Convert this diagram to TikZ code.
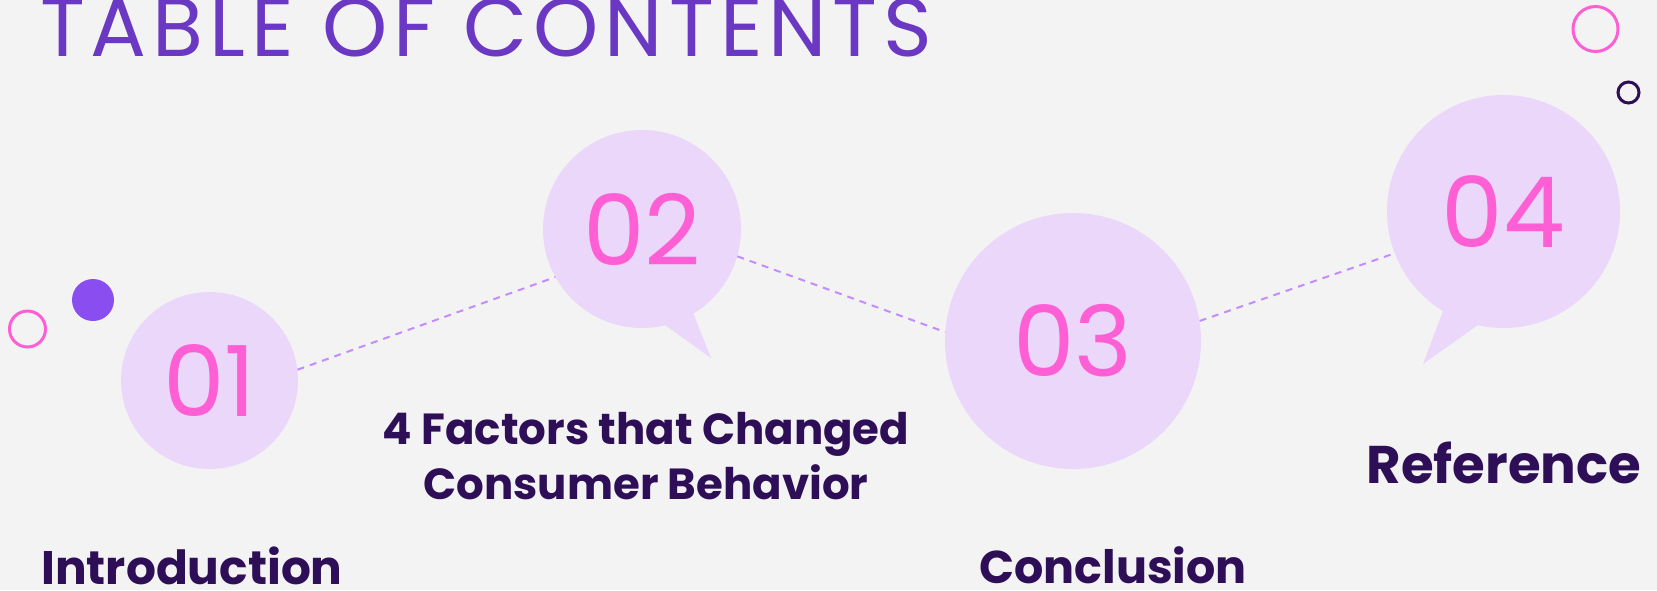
\documentclass[tikz,border=0pt]{standalone}
\usepackage{fontspec}
\setmainfont{Poppins}
\definecolor{bggrey}{HTML}{F3F3F3}
\definecolor{bubblefill}{HTML}{EAD7FA}
\definecolor{numpink}{HTML}{FF5FD4}
\definecolor{titlepurple}{HTML}{6A38C2}
\definecolor{darkpurple}{HTML}{2E0F57}
\definecolor{dotpurple}{HTML}{8A4DF0}
\definecolor{linkpurple}{HTML}{C38DFF}
\tikzset{
	bubble/.style={circle, fill=bubblefill, inner sep=0pt, text=numpink, font=\fontsize{98}{98}\selectfont},
	tail/.style={fill=bubblefill},
	link/.style={draw=linkpurple, line width=2pt, dash pattern=on 7pt off 6pt},
	itemtext/.style={text=darkpurple, inner sep=0pt, anchor=base, font=\bfseries\fontsize{47}{55}\selectfont},
	ring/.style={circle, draw, line width=3pt, inner sep=0pt}
}
\begin{document}
\begin{tikzpicture}[x=1pt, y=-1pt]
	\fill[bggrey] (0,0) rectangle (1657,590);
	\useasboundingbox (0,0) rectangle (1657,590);
	\node[anchor=base west, inner sep=0pt, text=titlepurple, font=\fontsize{83}{83}\selectfont\addfontfeatures{LetterSpace=7.2}] (title) at (40,56) {TABLE OF CONTENTS};
	\node[ring, draw=numpink, minimum size=36] (r1) at (27.5,329) {};
	\node[circle, fill=dotpurple, inner sep=0pt, minimum size=42] (d1) at (93,300) {};
	\node[ring, draw=numpink, minimum size=45] (r2) at (1595.5,29) {};
	\node[ring, draw=darkpurple, minimum size=21] (r3) at (1628.5,92.5) {};
	\fill[tail] (665,325) -- (711,358) -- (693,313) -- cycle;
	\fill[tail] (1443,311) -- (1423,364) -- (1478,325) -- cycle;
	\node[bubble, minimum size=177] (c1) at (209.5,380.5) {01};
	\node[bubble, minimum size=198] (c2) at (642,229) {02};
	\node[bubble, minimum size=256] (c3) at (1073,341) {03};
	\node[bubble, minimum size=233] (c4) at (1503.5,211.5) {04};
	\node[itemtext] (t1) at (192,584) {Introduction};
	\node[itemtext, align=center, font=\bfseries\fontsize{43.5}{55}\selectfont] (t2) at (646,499) {4 Factors that Changed\\Consumer Behavior};
	\node[itemtext, font=\bfseries\fontsize{46}{55}\selectfont] (t3) at (1113,583) {Conclusion};
	\node[itemtext, font=\bfseries\fontsize{53}{55}\selectfont] (t4) at (1504,483) {Reference};
	\draw[link] (c1.7.6) -- (c2.209);
	\draw[link] (c2.-16.4) -- (c3.176);
	\draw[link] (c3.9.5) -- (c4.201);
\end{tikzpicture}
\end{document}
